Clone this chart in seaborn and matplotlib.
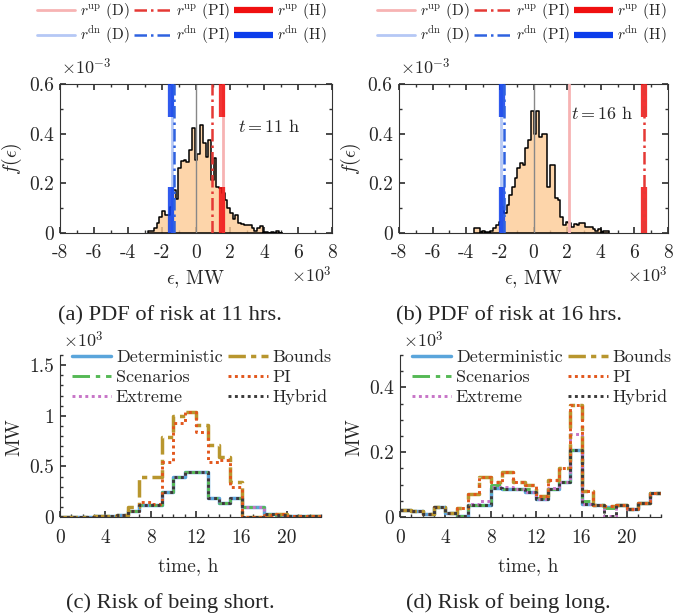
import numpy as np
import pandas as pd
import matplotlib
matplotlib.use('Agg')
import matplotlib.pyplot as plt
from matplotlib.lines import Line2D
from matplotlib.ticker import MultipleLocator, FuncFormatter
import seaborn as sns

# ---- data -------------------------------------------------------------
# error histograms (x in 10^3 MW, density in 10^-3)
bin_width = 0.16
start_11 = -2.80
dens_11 = [0.008, 0.008, 0.020, 0.040, 0.066, 0.089, 0.073, 0.073, 0.106, 0.173,
           0.137, 0.260, 0.288, 0.294, 0.284, 0.335, 0.422, 0.294, 0.318, 0.435,
           0.362, 0.308, 0.375, 0.214, 0.301, 0.187, 0.180, 0.160, 0.133, 0.100,
           0.080, 0.055, 0.073, 0.040, 0.035, 0.032, 0.032, 0.032, 0.020, 0.007,
           0.020, 0.027, 0.003, 0.003, 0.0, 0.003, 0.0, 0.010, 0.0]
start_16 = -3.52
dens_16 = [0.020, 0.020, 0.005, 0.009, 0.005, 0.005, 0.010, 0.019, 0.032, 0.046,
           0.106, 0.079, 0.113, 0.153, 0.187, 0.220, 0.260, 0.280, 0.274, 0.342,
           0.375, 0.490, 0.400, 0.490, 0.388, 0.400, 0.400, 0.187, 0.274, 0.274,
           0.140, 0.133, 0.066, 0.032, 0.046, 0.040, 0.025, 0.036, 0.032, 0.040,
           0.040, 0.025, 0.025, 0.025, 0.018, 0.008, 0.018, 0.005, 0.008, 0.008]

# reserve requirements (10^3 MW): D, PI, H
r_up_11 = [1.60, 0.93, 1.55]
r_dn_11 = [-1.40, -1.30, -1.46]
r_up_16 = [2.10, 6.60, 6.60]
r_dn_16 = [-1.92, -1.76, -1.88]

# hourly risk (10^3 MW)
hours = list(range(24))
methods = ['Deterministic', 'Scenarios', 'Extreme', 'Bounds', 'PI', 'Hybrid']
short_det = [0.003, 0.003, 0.003, 0.012, 0.005, 0.020, 0.055, 0.120, 0.120, 0.250, 0.400, 0.447,
             0.447, 0.184, 0.141, 0.184, 0.095, 0.095, 0.030, 0.020, 0.010, 0.010, 0.010]
short_scen = [0.003, 0.003, 0.003, 0.012, 0.005, 0.020, 0.055, 0.120, 0.120, 0.250, 0.400, 0.447,
              0.447, 0.184, 0.141, 0.184, 0.095, 0.095, 0.030, 0.020, 0.010, 0.010, 0.010]
short_ext = [0.003, 0.003, 0.003, 0.012, 0.005, 0.020, 0.055, 0.120, 0.120, 0.250, 0.400, 0.447,
             0.447, 0.184, 0.141, 0.184, 0.095, 0.095, 0.030, 0.020, 0.010, 0.010, 0.010]
short_bounds = [0.003, 0.003, 0.003, 0.013, 0.005, 0.020, 0.100, 0.398, 0.400, 0.786, 1.000, 1.040,
                0.910, 0.710, 0.595, 0.350, 0.0, 0.0, 0.016, 0.025, 0.010, 0.010, 0.010]
short_pi = [0.003, 0.003, 0.003, 0.013, 0.005, 0.015, 0.062, 0.150, 0.130, 0.546, 0.930, 1.040,
            0.840, 0.546, 0.560, 0.300, 0.0, 0.0, 0.016, 0.025, 0.010, 0.010, 0.010]
short_hyb = [0.003, 0.003, 0.003, 0.012, 0.005, 0.020, 0.055, 0.120, 0.120, 0.250, 0.400, 0.447,
             0.447, 0.184, 0.141, 0.184, 0.0, 0.0, 0.030, 0.020, 0.010, 0.010, 0.010]

long_det = [0.022, 0.017, 0.010, 0.031, 0.012, 0.003, 0.036, 0.037, 0.091, 0.087, 0.087, 0.078,
            0.055, 0.085, 0.109, 0.206, 0.040, 0.037, 0.030, 0.037, 0.024, 0.042, 0.073]
long_scen = [0.022, 0.017, 0.010, 0.031, 0.012, 0.003, 0.036, 0.037, 0.100, 0.087, 0.087, 0.085,
             0.060, 0.085, 0.109, 0.206, 0.050, 0.037, 0.027, 0.037, 0.024, 0.042, 0.073]
long_ext = [0.022, 0.017, 0.010, 0.031, 0.012, 0.003, 0.040, 0.050, 0.093, 0.093, 0.087, 0.078,
            0.055, 0.090, 0.109, 0.257, 0.040, 0.037, 0.003, 0.037, 0.024, 0.042, 0.073]
long_bounds = [0.022, 0.017, 0.010, 0.031, 0.012, 0.027, 0.070, 0.122, 0.109, 0.139, 0.109, 0.100,
               0.065, 0.114, 0.150, 0.345, 0.081, 0.037, 0.034, 0.037, 0.024, 0.042, 0.073]
long_pi = [0.022, 0.017, 0.010, 0.031, 0.012, 0.027, 0.070, 0.122, 0.109, 0.139, 0.109, 0.100,
           0.065, 0.114, 0.150, 0.345, 0.081, 0.037, 0.034, 0.037, 0.024, 0.042, 0.073]
long_hyb = [0.022, 0.017, 0.010, 0.031, 0.012, 0.003, 0.036, 0.037, 0.091, 0.085, 0.085, 0.078,
            0.055, 0.085, 0.109, 0.206, 0.040, 0.037, 0.003, 0.037, 0.024, 0.042, 0.073]

# ---- style ------------------------------------------------------------
sns.set_theme(style='ticks')
plt.rcParams['font.family'] = ['cmr10', 'DejaVu Serif']
plt.rcParams['mathtext.fontset'] = 'cm'
plt.rcParams['axes.unicode_minus'] = False
FS = 14
AX_COL = '#333333'

W, H = 674, 616
fig = plt.figure(figsize=(W / 100, H / 100), dpi=100)

def px_axes(l, t, r, b):
    return fig.add_axes([l / W, 1 - b / H, (r - l) / W, (b - t) / H])

fmt = FuncFormatter(lambda v, _: '%g' % (round(v, 6) + 0.0))

up_cols = ['#F7B3B3', '#E53935', '#F01010']
dn_cols = ['#B5C8F5', '#2F62E0', '#0B3DEB']
h_dash = (0, (46 * 0.72 / 4.5, 70 * 0.72 / 4.5))
pi_dash = (0, (5, 1.6, 1, 1.6))


def style_ticks(ax, xpad, ypad):
    ax.xaxis.set_major_formatter(fmt)
    ax.yaxis.set_major_formatter(fmt)
    ax.tick_params(which='both', direction='in', color=AX_COL,
                   labelcolor='#262626', labelsize=FS)
    ax.tick_params(axis='x', which='major', pad=xpad)
    ax.tick_params(axis='y', which='major', pad=ypad)
    ax.tick_params(which='major', length=4)
    ax.tick_params(which='minor', length=2.5)


def pdf_panel(ax, start, dens, r_up, r_dn, tlabel, tpos):
    edges = [start + bin_width * i for i in range(len(dens) + 1)]
    centers = [e + bin_width / 2 for e in edges[:-1]]
    df = pd.DataFrame({'err': centers, 'dens': dens})
    sns.histplot(data=df, x='err', weights='dens', bins=edges, element='step',
                 fill=True, stat='count', color='#FDCB95', alpha=0.8,
                 edgecolor='black', linewidth=1.1, ax=ax)
    ax.axvline(0, color='#888888', lw=1.0, zorder=1.5)
    for vals, cols in ((r_dn, dn_cols), (r_up, up_cols)):
        ax.plot([vals[0]] * 2, [0, 0.6], color=cols[0], lw=2.0, zorder=3)
        ax.plot([vals[2]] * 2, [0, 0.6], color=cols[2], lw=4.5, ls=h_dash, zorder=3,
                alpha=0.85)
        ax.plot([vals[1]] * 2, [0, 0.6], color=cols[1], lw=1.8, ls=pi_dash, zorder=4)
    ax.set_xlim(-8, 8)
    ax.set_ylim(0, 0.6)
    ax.xaxis.set_major_locator(MultipleLocator(2))
    ax.xaxis.set_minor_locator(MultipleLocator(1))
    ax.yaxis.set_major_locator(MultipleLocator(0.2))
    ax.yaxis.set_minor_locator(MultipleLocator(0.1))
    style_ticks(ax, 8, 4.5)
    ax.tick_params(which='both', top=True, right=True)
    for s in ax.spines.values():
        s.set_color(AX_COL)
        s.set_linewidth(0.8)
    ax.set_xlabel(r'$\epsilon$, MW', fontsize=FS)
    ax.set_ylabel(r'$f(\epsilon)$', fontsize=FS)
    ax.xaxis.set_label_coords(0.5, -0.235)
    ax.yaxis.set_label_coords(-0.132, 0.5)
    ax.text(tpos[0], tpos[1], tlabel, fontsize=FS - 1, ha='left', va='center')
    ax.text(0.005, 1.114, r'$\times 10^{-3}$', transform=ax.transAxes,
            fontsize=FS - 1, ha='left', va='center')
    ax.text(1.0, -0.282, r'$\times 10^{3}$', transform=ax.transAxes,
            fontsize=FS - 1, ha='right', va='center')


styles = {
    'Deterministic': dict(color='#5AA5DB', ls='-', lw=2.5),
    'Scenarios': dict(color='#55B955', ls=(0, (6, 2, 1.5, 2)), lw=2.1),
    'Extreme': dict(color='#C774C7', ls=(0, (1, 1.2)), lw=2.1),
    'Bounds': dict(color='#B8962E', ls=(0, (5, 1.5, 1.5, 1.5)), lw=2.5),
    'PI': dict(color='#E2561C', ls=(0, (1, 1.2)), lw=2.1),
    'Hybrid': dict(color='#3A3A3A', ls=(0, (1, 1.2)), lw=2.1),
}


def risk_panel(ax, series, ymax, yminor):
    handles = []
    for name, vals in zip(methods, series):
        y = vals + [vals[-1]]
        sns.lineplot(x=hours, y=y, ax=ax, drawstyle='steps-post', estimator=None,
                     **styles[name])
        handles.append(Line2D([], [], **styles[name]))
    ax.set_xlim(0, 23)
    ax.set_ylim(0, ymax)
    ax.xaxis.set_major_locator(MultipleLocator(4))
    ax.xaxis.set_minor_locator(MultipleLocator(1))
    ax.yaxis.set_minor_locator(MultipleLocator(yminor))
    style_ticks(ax, 9, 4.5)
    sns.despine(ax=ax)
    for s in ('left', 'bottom'):
        ax.spines[s].set_color(AX_COL)
        ax.spines[s].set_linewidth(0.8)
    ax.set_xlabel('time, h', fontsize=FS)
    ax.set_ylabel('MW', fontsize=FS)
    ax.xaxis.set_label_coords(0.49, -0.25)
    ax.yaxis.set_label_coords(-0.14, 0.49)
    ax.text(0.01, 1.09, r'$\times 10^{3}$', transform=ax.transAxes,
            fontsize=FS - 1, ha='left', va='center')
    ax.legend(handles, methods, ncol=2, frameon=False, loc='upper left',
              bbox_to_anchor=(0.045, 1.035), borderpad=0, borderaxespad=0,
              handlelength=2.2, handletextpad=0.25, columnspacing=0.3,
              labelspacing=0.25, fontsize=13)


ax_a = px_axes(60, 84, 332, 233)
ax_b = px_axes(399, 84, 668, 233)
ax_c = px_axes(60, 355, 321, 517)
ax_d = px_axes(400, 355, 661, 517)

pdf_panel(ax_a, start_11, dens_11, r_up_11, r_dn_11, r'$t = 11$ h', (2.5, 0.43))
pdf_panel(ax_b, start_16, dens_16, r_up_16, r_dn_16, r'$t = 16$ h', (2.25, 0.48))
risk_panel(ax_c, [short_det, short_scen, short_ext, short_bounds, short_pi, short_hyb], 1.6, 0.1)
risk_panel(ax_d, [long_det, long_scen, long_ext, long_bounds, long_pi, long_hyb], 0.5, 0.05)

# top legends for reserve lines
leg_h = [Line2D([], [], color=up_cols[0], lw=2.0), Line2D([], [], color=dn_cols[0], lw=2.0),
         Line2D([], [], color=up_cols[1], lw=1.8, ls=pi_dash), Line2D([], [], color=dn_cols[1], lw=1.8, ls=pi_dash),
         Line2D([], [], color=up_cols[2], lw=4.5, ls=h_dash), Line2D([], [], color=dn_cols[2], lw=4.5, ls=h_dash)]
leg_l = [r'$r^{\rm up}$ (D)', r'$r^{\rm dn}$ (D)', r'$r^{\rm up}$ (PI)', r'$r^{\rm dn}$ (PI)',
         r'$r^{\rm up}$ (H)', r'$r^{\rm dn}$ (H)']
for x0 in (37, 377):
    fig.legend(leg_h, leg_l, ncol=3, frameon=False, loc='upper left',
               bbox_to_anchor=(x0 / W, 1 - 1 / H), borderpad=0, borderaxespad=0,
               handlelength=2.5, handletextpad=0.3, columnspacing=0.25,
               labelspacing=0.2, fontsize=11)

# captions
cap_font = dict(family='Liberation Serif', fontsize=16.2, ha='center', va='center')
fig.text(170 / W, 1 - 316 / H, '(a) PDF of risk at 11 hrs.', **cap_font)
fig.text(509 / W, 1 - 316 / H, '(b) PDF of risk at 16 hrs.', **cap_font)
fig.text(170 / W, 1 - 603 / H, '(c) Risk of being short.', **cap_font)
fig.text(508 / W, 1 - 603 / H, '(d) Risk of being long.', **cap_font)

fig.savefig('out.png', dpi=100)
